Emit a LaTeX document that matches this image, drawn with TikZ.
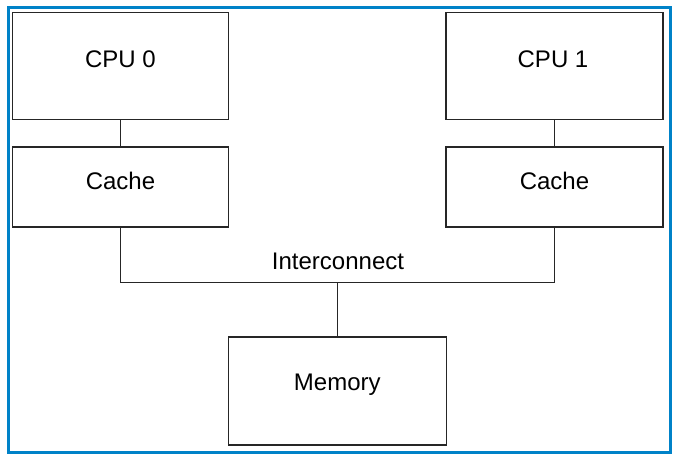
\documentclass[tikz,border=0pt]{standalone}
\usepackage{fontspec}
\setmainfont{Liberation Sans}
\definecolor{frameblue}{RGB}{0,130,200}
\begin{document}
\begin{tikzpicture}[x=1pt,y=-1pt,
  unit/.style={draw=black!85, line width=1.1pt, rectangle, inner sep=0pt},
  lbl/.style={anchor=base, inner sep=0pt, font=\fontsize{24}{28}\selectfont},
  wire/.style={draw=black!85, line width=1.1pt}]
\useasboundingbox (0,0) rectangle (690,461);
\draw[frameblue, line width=2.2pt] (8.5,7.5) rectangle (670.5,452.5);
% boxes
\node[unit, minimum width=216pt, minimum height=107pt] (cpu0) at (120.5,66) {};
\node[unit, minimum width=217pt, minimum height=107pt] (cpu1) at (554.5,66) {};
\node[unit, minimum width=216pt, minimum height=80pt] (cache0) at (120.5,187) {};
\node[unit, minimum width=217pt, minimum height=80pt] (cache1) at (554.5,187) {};
\node[unit, minimum width=217.5pt, minimum height=108pt] (mem) at (337.3,391) {};
% labels
\node[lbl] (tcpu0) at (120.5,67) {CPU 0};
\node[lbl] (tcpu1) at (553,67) {CPU 1};
\node[lbl] (tcache0) at (120.5,189) {Cache};
\node[lbl] (tcache1) at (554.5,189) {Cache};
\node[lbl] (tmem) at (337.3,390) {Memory};
\node[lbl] (tbus) at (338,269.5) {Interconnect};
% connectors
\coordinate (bus) at (337.3,282.7);
\draw[wire] (cpu0) -- (cache0);
\draw[wire] (cpu1) -- (cache1);
\draw[wire] (cache0.south) -- (cache0.south |- bus) -- (cache1.south |- bus) -- (cache1.south);
\draw[wire] (bus) -- (mem.north);
\end{tikzpicture}
\end{document}
